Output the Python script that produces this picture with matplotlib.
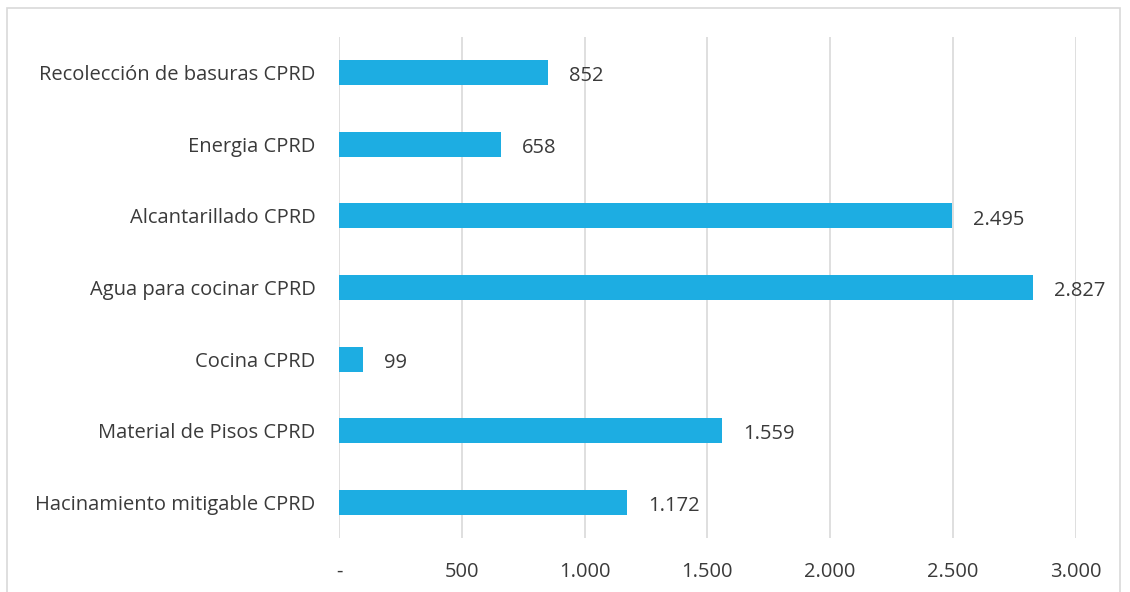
import matplotlib.pyplot as plt
from matplotlib.patches import Rectangle
from matplotlib.ticker import FuncFormatter

plt.rcParams['font.family'] = ['Open Sans', 'DejaVu Sans']

categories = [
    'Recolección de basuras CPRD',
    'Energia CPRD',
    'Alcantarillado CPRD',
    'Agua para cocinar CPRD',
    'Cocina CPRD',
    'Material de Pisos CPRD',
    'Hacinamiento mitigable CPRD',
]
values = [852, 658, 2495, 2827, 99, 1559, 1172]
x_ticks = [0, 500, 1000, 1500, 2000, 2500, 3000]

bar_color = '#1DADE2'
text_color = '#3A3A3A'
grid_color = '#D9D9D9'


def fmt_num(v, pos=None):
    if v == 0:
        return '-'
    return f'{int(round(v)):,}'.replace(',', '.')


fig = plt.figure(figsize=(11.3, 5.92), dpi=100)
ax = fig.add_axes([0.3, 0.0912, 0.652, 0.8463])

# chart frame
fig.patches.append(Rectangle((0.006, -0.01), 0.985, 0.997, transform=fig.transFigure,
                             fill=False, edgecolor=grid_color, linewidth=1.2))

ypos = list(range(len(categories)))
ax.barh(ypos, values, height=0.35, color=bar_color, zorder=3)

for y, v in zip(ypos, values):
    ax.text(v + 85, y + 0.05, fmt_num(v), va='center', ha='left',
            fontsize=14.5, color=text_color)

ax.set_xlim(0, 3000)
ax.set_ylim(len(categories) - 0.5, -0.5)
ax.set_xticks(x_ticks)
ax.xaxis.set_major_formatter(FuncFormatter(fmt_num))
ax.set_yticks(ypos)
ax.set_yticklabels(categories)
ax.tick_params(axis='both', length=0, labelsize=14.5, colors=text_color)
ax.tick_params(axis='y', pad=17)
ax.tick_params(axis='x', pad=17)
ax.grid(axis='x', color=grid_color, linewidth=1.2, zorder=0)
for s in ax.spines.values():
    s.set_visible(False)

plt.savefig('out.png', dpi=100)
